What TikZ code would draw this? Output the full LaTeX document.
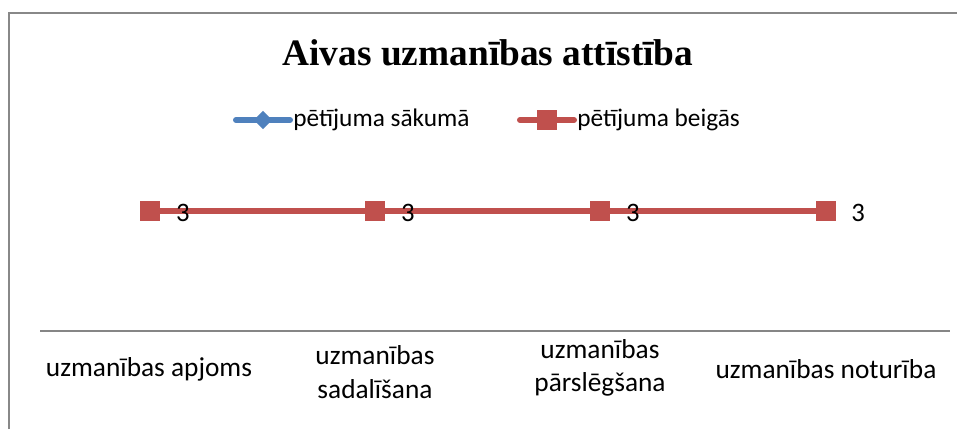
\documentclass[tikz,border=0pt]{standalone}
\usepackage{fontspec}
\setmainfont{Carlito}
\newfontfamily\titlefont{Liberation Serif}
\usetikzlibrary{shapes.geometric}
\definecolor{serblue}{HTML}{4F81BD}
\definecolor{serred}{HTML}{C0504D}
\definecolor{framegray}{HTML}{888888}
\definecolor{axisgray}{HTML}{868686}
\tikzset{
  serline/.style={line width=4.5pt},
  sqmark/.style={rectangle, fill=serred, minimum size=15pt, inner sep=0pt},
  dimark/.style={diamond, fill=serblue, minimum size=14pt, inner sep=0pt},
  vallabel/.style={font=\fontsize{20}{22}\selectfont, anchor=center},
  catlabel/.style={font=\fontsize{20.5}{25}\selectfont, align=center},
  legtext/.style={font=\fontsize{19}{21}\selectfont, anchor=west, inner sep=0pt},
}
\begin{document}
\begin{tikzpicture}[x=0.75pt,y=-0.75pt]
\useasboundingbox (0,0) rectangle (957,429);
\fill[white] (0,0) rectangle (957,429);
% frame (left and top visible)
\draw[framegray, line width=2.2pt] (9,429) -- (9,13) -- (957,13);
% title
\node[font=\titlefont\bfseries\fontsize{28}{32}\selectfont] (title) at (488,53) {Aivas uzmanības attīstība};
% legend
\coordinate (lb1) at (236,120);
\coordinate (lb2) at (290,120);
\draw[serblue, serline, line cap=round] (lb1) -- (lb2);
\node[dimark] (lbm) at (263,120) {};
\node[legtext] (lbt) at (293,120) {pētījuma sākumā};
\coordinate (lr1) at (520,120);
\coordinate (lr2) at (574,120);
\draw[serred, serline, line cap=round] (lr1) -- (lr2);
\node[sqmark] (lrm) at (547,120) {};
\node[legtext] (lrt) at (577,120) {pētījuma beigās};
% axis
\coordinate (ax1) at (40,331);
\coordinate (ax2) at (950,331);
\draw[axisgray, line width=1.5pt] (ax1) -- (ax2);
% data points
\foreach \i/\x in {1/150,2/375,3/600,4/826}{
  \coordinate (p\i) at (\x,211);
}
\draw[serblue, serline] (p1) -- (p2) -- (p3) -- (p4);
\foreach \i in {1,...,4}{ \node[dimark] (b\i) at (p\i) {}; }
\draw[serred, serline] (p1) -- (p2) -- (p3) -- (p4);
\foreach \i in {1,...,4}{ \node[sqmark] (r\i) at (p\i) {}; }
\foreach \i/\x in {1/183,2/408,3/633,4/858}{
  \node[vallabel] (v\i) at (\x,213) {3};
}
% category labels
\node[catlabel] (c1) at (149,369) {uzmanības apjoms};
\node[catlabel] (c2) at (375,372) {uzmanības\\sadalīšana};
\node[catlabel] (c3) at (600,368) {uzmanības\\pārslēgšana};
\node[catlabel] (c4) at (826,369) {uzmanības noturība};
\end{tikzpicture}
\end{document}
